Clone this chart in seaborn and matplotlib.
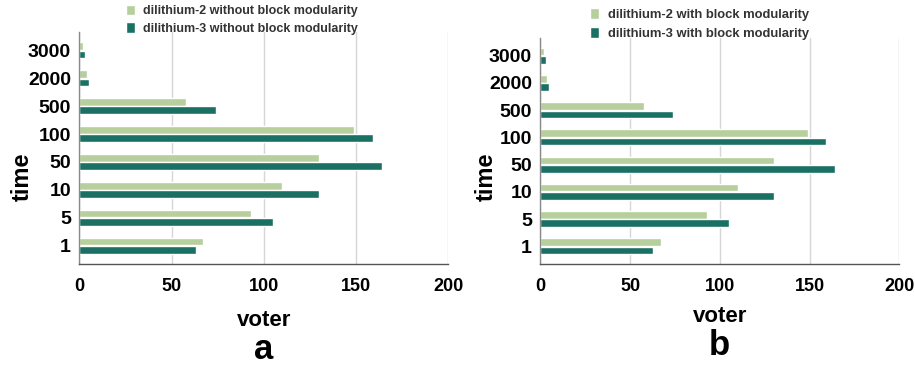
import matplotlib
matplotlib.use("Agg")
import matplotlib.pyplot as plt
import seaborn as sns
import pandas as pd

# Time categories, listed top to bottom
times = ["3000", "2000", "500", "100", "50", "10", "5", "1"]

# Voter counts per time category
dil2_without = [2, 4, 58, 149, 130, 110, 93, 67]
dil3_without = [3, 5, 74, 159, 164, 130, 105, 63]
dil2_with = [2, 4, 58, 149, 130, 110, 93, 67]
dil3_with = [3, 5, 74, 159, 164, 130, 105, 63]

x_ticks = [0, 50, 100, 150, 200]

LIGHT = "#b6cf9c"
DARK = "#1b7064"

sns.set_theme(style="white")
plt.rcParams["font.family"] = ["Liberation Sans", "DejaVu Sans"]
plt.rcParams["font.weight"] = "bold"
for key in ["text.color", "xtick.color", "ytick.color", "axes.labelcolor"]:
    plt.rcParams[key] = "black"

fig = plt.figure(figsize=(9.15, 3.67), dpi=100)
ax_a = fig.add_axes([79.3 / 915, 1 - 264 / 367, 369 / 915, 232 / 367])
ax_b = fig.add_axes([540.3 / 915, 1 - 264 / 367, 359 / 915, 226 / 367])


def make_frame(d2, d3, name2, name3):
    return pd.DataFrame({
        "time": times * 2,
        "voter": d2 + d3,
        "series": [name2] * len(times) + [name3] * len(times),
    })


panels = [
    (ax_a, make_frame(dil2_without, dil3_without,
                      "dilithium-2 without block modularity",
                      "dilithium-3 without block modularity"),
     (126 / 915, 1 - 4.5 / 367), 9.0, "a", 321, 366, 22),
    (ax_b, make_frame(dil2_with, dil3_with,
                      "dilithium-2 with block modularity",
                      "dilithium-3 with block modularity"),
     (590 / 915, 1 - 8 / 367), 9.4, "b", 317, 362, 486),
]

for ax, df, leg_anchor, leg_size, letter, voter_y, letter_y, time_x in panels:
    sns.barplot(data=df, y="time", x="voter", hue="series", order=times,
                palette=[LIGHT, DARK], orient="h", width=0.61, gap=0.1,
                saturation=1, ax=ax, legend=True)
    ax.set_xlim(0, 200)
    ax.set_ylim(7.65, -0.65)
    ax.set_xticks(x_ticks)
    ax.set_xticklabels([str(t) for t in x_ticks], fontsize=13, fontweight="bold")
    ax.tick_params(axis="x", length=0, pad=10)
    ax.tick_params(axis="y", length=0, pad=6, labelsize=14)
    for lbl in ax.get_yticklabels():
        lbl.set_fontweight("bold")
    ax.grid(axis="x", color="#d6d6d6", linewidth=1)
    ax.set_axisbelow(True)
    for side in ["top", "right"]:
        ax.spines[side].set_visible(False)
    ax.spines["left"].set_color("#8a8a8a")
    ax.spines["bottom"].set_color("#555555")
    ax.spines["left"].set_linewidth(1)
    ax.spines["bottom"].set_linewidth(1)
    ax.set_xlabel("")
    ax.set_ylabel("")

    handles, labels = ax.get_legend_handles_labels()
    ax.get_legend().remove()
    fig.legend(handles, labels, loc="upper left", bbox_to_anchor=leg_anchor,
               frameon=False, handlelength=0.7, handleheight=0.95,
               handletextpad=0.65, labelspacing=0.42, borderpad=0,
               borderaxespad=0, labelcolor="#333333",
               prop={"weight": "bold", "size": leg_size})

    cx = (ax.get_position().x0 + ax.get_position().x1) / 2
    fig.text(cx, 1 - voter_y / 367, "voter", ha="center", va="center",
             fontsize=16, fontweight="bold")
    fig.text(cx, 1 - letter_y / 367, letter, ha="center", va="bottom",
             fontsize=25, fontweight="bold")
    fig.text(time_x / 915, 1 - 177 / 367, "time", ha="center", va="center",
             rotation=90, fontsize=17, fontweight="bold")

fig.savefig("out.png", dpi=100)
